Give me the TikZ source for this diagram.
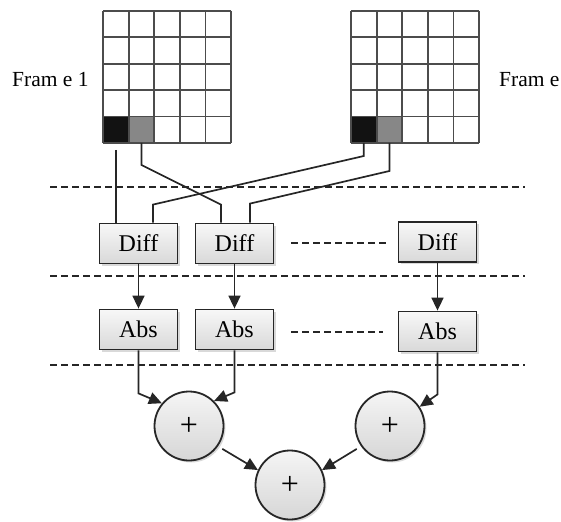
\documentclass[tikz,border=0pt]{standalone}
\usepackage{fontspec}
\setmainfont{Liberation Serif}
\usetikzlibrary{shadows,arrows.meta,calc}
\begin{document}
\begin{tikzpicture}[x=1pt,y=-1pt,
  ln/.style={line width=1.7pt, black!85},
  arr/.style={ln, -{Triangle[length=13pt,width=12pt]}},
  sep/.style={line width=1.6pt, black!85, dash pattern=on 7pt off 4pt},
  gridln/.style={line width=1.8pt, black!70},
  box/.style={draw=black!85, line width=1.8pt, top color=gray!6, bottom color=gray!30,
    minimum width=78pt, minimum height=40pt, inner sep=0pt,
    font=\fontsize{24}{26}\selectfont,
    drop shadow={opacity=0.3, shadow xshift=2pt, shadow yshift=-2pt}},
  sum/.style={circle, draw=black!85, line width=1.8pt, top color=gray!8, bottom color=gray!32,
    minimum size=69pt, inner sep=0pt, font=\fontsize{32}{34}\selectfont,
    drop shadow={opacity=0.3, shadow xshift=2pt, shadow yshift=-2pt}},
  lbl/.style={font=\fontsize{21.5}{24}\selectfont, inner sep=0pt}
]
\useasboundingbox (0,0) rectangle (561,521);

% frames
\fill[black!93] (103,117) rectangle (128.6,143);
\fill[black!47] (128.6,117) rectangle (154.2,143);
\fill[black!93] (351,117) rectangle (376.6,143);
\fill[black!47] (376.6,117) rectangle (402.2,143);
\foreach \ox in {103,351}{
  \foreach \i in {0,...,5}{
    \draw[gridln] ({\ox+25.6*\i},11) -- ({\ox+25.6*\i},143);
    \draw[gridln] (\ox,{11+26.4*\i}) -- ({\ox+128},{11+26.4*\i});
  }
}

\node[lbl, anchor=base west] (f1) at (12,87) {Fram e 1};
\node[lbl, anchor=base west] (f2) at (499,87) {Fram e};

\coordinate (lb) at (115.8,143);
\coordinate (lg) at (141.4,143);
\coordinate (rb) at (363.8,143);
\coordinate (rg) at (389.4,143);

% separators
\coordinate (s1a) at (50,187); \coordinate (s1b) at (525,187);
\coordinate (s2a) at (50,276); \coordinate (s2b) at (525,276);
\coordinate (s3a) at (50,365); \coordinate (s3b) at (525,365);
\draw[sep] (s1a) -- (s1b);
\draw[sep] (s2a) -- (s2b);
\draw[sep] (s3a) -- (s3b);

% boxes
\node[box] (d1) at (138.5,243.5) {Diff};
\node[box] (d2) at (234.5,243.5) {Diff};
\node[box] (d3) at (437.5,242) {Diff};
\node[box] (a1) at (138.5,329.5) {Abs};
\node[box] (a2) at (234.5,329.5) {Abs};
\node[box] (a3) at (437.5,331.5) {Abs};

\coordinate (e1a) at (291,243); \coordinate (e1b) at (386,243);
\coordinate (e2a) at (291,332); \coordinate (e2b) at (383,332);
\draw[sep] (e1a) -- (e1b);
\draw[sep] (e2a) -- (e2b);

% sums
\node[sum] (p1) at (189,426) {+};
\node[sum] (p2) at (390,426) {+};
\node[sum] (p3) at (290,485) {+};

% frame to diff connectors
\draw[ln, shorten <=7pt] (lb) -- (lb |- d1.north);
\draw[ln] (lg) -- ++(0,22) -- ($(d2.north)+(-13.5,-18)$) -- ($(d2.north)+(-13.5,0)$);
\draw[ln] (rb) -- ++(0,13) -- ($(d1.north)+(14.5,-18)$) -- ($(d1.north)+(14.5,0)$);
\draw[ln] (rg) -- ++(0,28) -- ($(d2.north)+(15.5,-19)$) -- ($(d2.north)+(15.5,0)$);

% diff to abs
\draw[arr] (d1) -- (a1);
\draw[arr] (d2) -- (a2);
\draw[arr] (d3) -- (a3);

% abs to sums
\draw[arr] (a1.south) -- ++(0,43) -- (p1.140);
\draw[arr] (a2.south) -- ++(0,42) -- (p1.45);
\draw[arr] (a3.south) -- ++(0,42) -- (p2.33);

% sums to final
\draw[arr, shorten <=5pt] (p1.-35) -- (p3.155);
\draw[arr, shorten <=5pt] (p2.-145) -- (p3.25);
\end{tikzpicture}
\end{document}
